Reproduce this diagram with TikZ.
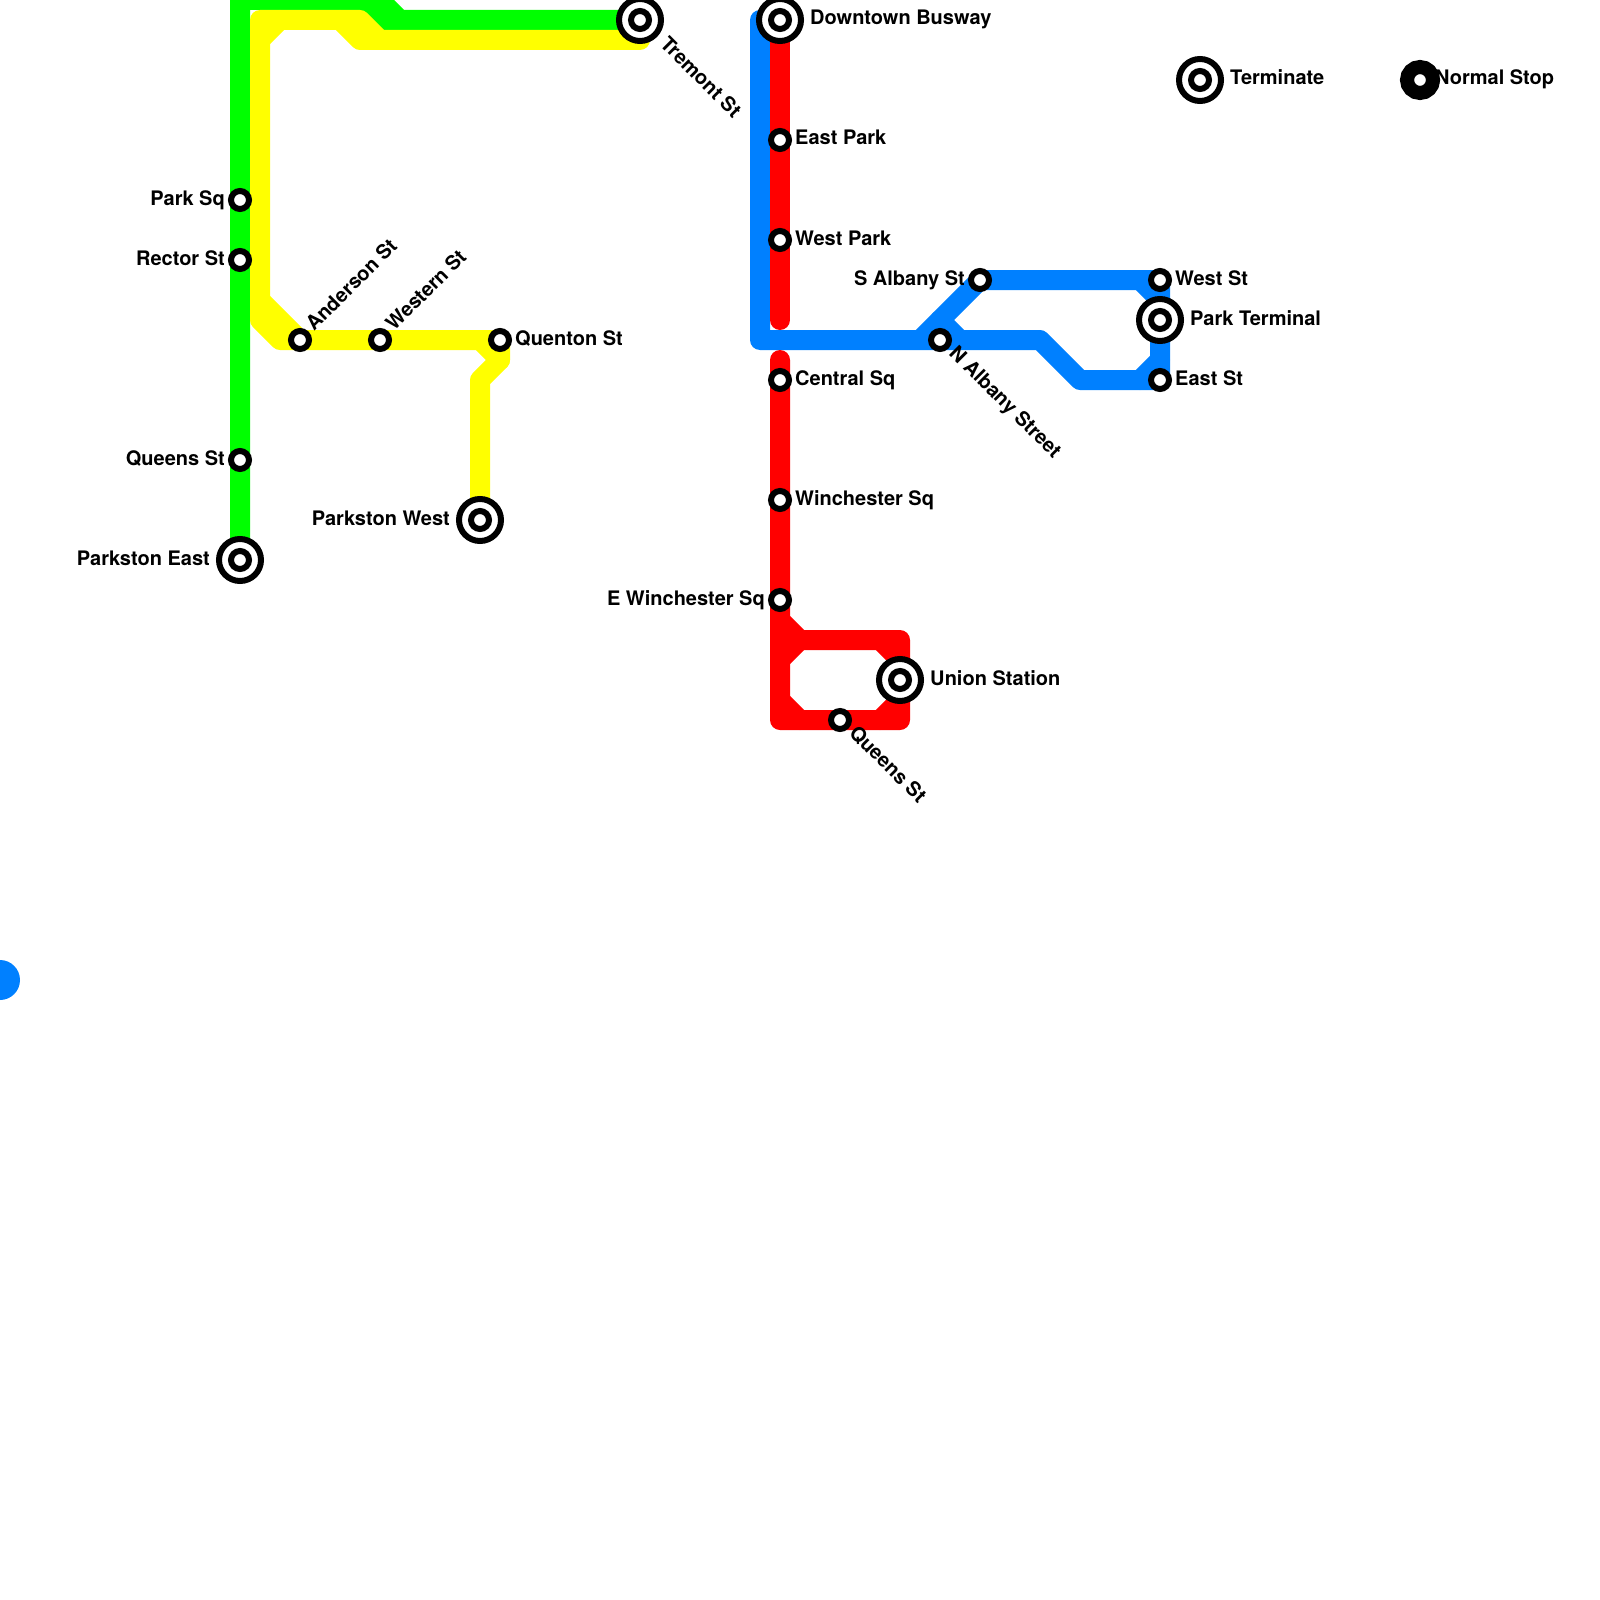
\documentclass[tikz,border=0pt]{standalone}
\usepackage{fontspec}
\setmainfont{TeX Gyre Heros}
\pgfdeclarelayer{lines}
\pgfsetlayers{lines,main}
\definecolor{lineGreen}{RGB}{0,255,0}
\definecolor{lineYellow}{RGB}{255,255,0}
\definecolor{lineRed}{RGB}{255,0,0}
\definecolor{lineBlue}{RGB}{0,128,255}
\tikzset{
  transit/.style={line width=20pt,line join=round,line cap=round},
  stopdot/.style={circle,draw=black,fill=white,line width=6pt,minimum size=18pt,inner sep=0pt},
  termout/.style={circle,draw=black,fill=white,line width=6pt,minimum size=42pt,inner sep=0pt},
  termin/.style={circle,draw=black,fill=white,line width=6pt,minimum size=18pt,inner sep=0pt},
  legenddot/.style={circle,draw=black,fill=white,line width=14pt,minimum size=26pt,inner sep=0pt},
  txt/.style={font=\fontsize{20}{20}\selectfont\bfseries,inner sep=0pt,text=black},
  lblE/.style={txt,anchor=base west},
  lblW/.style={txt,anchor=base east},
  lblUp/.style={txt,anchor=base west,rotate=45},
  lblDn/.style={txt,anchor=base west,rotate=-45},
}
\newcommand{\termstop}[2]{\node[termout] (#1) at (#2) {};\node[termin] (#1in) at (#2) {};}
\begin{document}
\begin{tikzpicture}[x=1pt,y=-1pt]
\clip (0,0) rectangle (1600,1600);
% stations
\node[stopdot] (parksq) at (240,200) {};
\node[stopdot] (rector) at (240,260) {};
\node[stopdot] (queensw) at (240,460) {};
\termstop{parkstone}{240,560}
\node[stopdot] (anderson) at (300,340) {};
\node[stopdot] (western) at (380,340) {};
\node[stopdot] (quenton) at (500,340) {};
\termstop{parkstonw}{480,520}
\termstop{tremont}{640,20}
\termstop{downtown}{780,20}
\node[stopdot] (eastpark) at (780,140) {};
\node[stopdot] (westpark) at (780,240) {};
\node[stopdot] (central) at (780,380) {};
\node[stopdot] (winch) at (780,500) {};
\node[stopdot] (ewinch) at (780,600) {};
\termstop{union}{900,680}
\node[stopdot] (queensr) at (840,720) {};
\node[stopdot] (salbany) at (980,280) {};
\node[stopdot] (nalbany) at (940,340) {};
\node[stopdot] (westst) at (1160,280) {};
\termstop{parkterm}{1160,320}
\node[stopdot] (eastst) at (1160,380) {};
\termstop{legendterm}{1200,80}
\node[legenddot] (legendstop) at (1420,80) {};
\node[circle,fill=lineBlue,minimum size=40pt,inner sep=0pt] (blob) at (0,980) {};
% bends
\foreach \n/\p in {
  ga/{240,0},gb/{380,0},gc/{400,20},gd/{360,0},ge/{380,20},
  ya/{640,40},yb/{360,40},yc/{340,20},yd/{260,20},ye/{260,320},yf/{280,340},
  yg/{260,300},yh/{260,40},yi/{280,20},yj/{480,340},yk/{500,360},yl/{480,380},
  ym/{360,20},yn/{380,40},
  ra/{780,320},rb/{780,360},rc/{780,720},rd/{900,720},re/{900,640},rf/{800,640},rg/{780,620},
  rh/{780,660},ri/{780,700},rj/{800,720},rk/{880,640},rl/{900,660},rm/{880,720},rn/{900,700},
  ba/{760,20},bb/{760,340},bc/{1040,340},bd/{1080,380},be/{940,320},bf/{960,340},
  bg/{1140,280},bh/{1160,300},bi/{1140,380},bj/{1160,360},bk/{920,340}}
  {\coordinate (\n) at (\p);}
% lines
\begin{pgfonlayer}{lines}
\fill[white] (0,0) rectangle (1600,1600);
\draw[transit,lineGreen] (parkstone.center) -- (queensw.center) -- (rector.center) -- (parksq.center) -- (ga) -- (gb) -- (gc) -- (tremont.center);
\draw[transit,lineGreen] (gd) -- (ge) -- (gc);
\draw[transit,lineYellow] (tremont.center) -- (ya) -- (yb) -- (yc) -- (yd) -- (ye) -- (yf) -- (anderson.center) -- (western.center) -- (quenton.center) -- (yk) -- (yl) -- (parkstonw.center);
\draw[transit,lineYellow] (yg) -- (anderson.center);
\draw[transit,lineYellow] (yh) -- (yi);
\draw[transit,lineYellow] (yj) -- (yk);
\draw[transit,lineYellow] (yc) -- (ym) -- (yn);
\draw[transit,lineBlue] (downtown.center) -- (ba) -- (bb) -- (bk) -- (nalbany.center) -- (bc) -- (bd) -- (eastst.center) -- (parkterm.center) -- (westst.center) -- (salbany.center) -- (bk);
\draw[transit,lineBlue] (be) -- (bf);
\draw[transit,lineBlue] (bg) -- (bh);
\draw[transit,lineBlue] (bi) -- (bj);
\draw[transit,lineRed] (downtown.center) -- (eastpark.center) -- (westpark.center) -- (ra);
\draw[transit,lineRed] (rb) -- (central.center) -- (winch.center) -- (ewinch.center) -- (rc) -- (queensr.center) -- (rd) -- (union.center) -- (re) -- (rf) -- (rg);
\draw[transit,lineRed] (rh) -- (rf);
\draw[transit,lineRed] (ri) -- (rj);
\draw[transit,lineRed] (rk) -- (rl);
\draw[transit,lineRed] (rm) -- (rn);
\end{pgfonlayer}
% labels
\node[lblW] (tparksq) at ([shift={(-15,5)}]parksq.center) {Park Sq};
\node[lblW] (trector) at ([shift={(-15,5)}]rector.center) {Rector St};
\node[lblW] (tqueensw) at ([shift={(-15,5)}]queensw.center) {Queens St};
\node[lblW] (tparkstone) at ([shift={(-30,5)}]parkstone.center) {Parkston East};
\node[lblW] (tparkstonw) at ([shift={(-30,5)}]parkstonw.center) {Parkston West};
\node[lblE] (tquenton) at ([shift={(15,5)}]quenton.center) {Quenton St};
\node[lblUp] (tanderson) at ([shift={(14,-8)}]anderson.center) {Anderson St};
\node[lblUp] (twestern) at ([shift={(14,-8)}]western.center) {Western St};
\node[lblDn] (ttremont) at ([shift={(19,25)}]tremont.center) {Tremont St};
\node[lblE] (tdowntown) at ([shift={(30,5)}]downtown.center) {Downtown Busway};
\node[lblE] (teastpark) at ([shift={(15,5)}]eastpark.center) {East Park};
\node[lblE] (twestpark) at ([shift={(15,5)}]westpark.center) {West Park};
\node[lblE] (tcentral) at ([shift={(15,5)}]central.center) {Central Sq};
\node[lblE] (twinch) at ([shift={(15,5)}]winch.center) {Winchester Sq};
\node[lblW] (tewinch) at ([shift={(-15,5)}]ewinch.center) {E Winchester Sq};
\node[lblE] (tunion) at ([shift={(30,5)}]union.center) {Union Station};
\node[lblDn] (tqueensr) at ([shift={(8,14)}]queensr.center) {Queens St};
\node[lblW] (tsalbany) at ([shift={(-15,5)}]salbany.center) {S Albany St};
\node[lblDn] (tnalbany) at ([shift={(8,14)}]nalbany.center) {N Albany Street};
\node[lblE] (twestst) at ([shift={(15,5)}]westst.center) {West St};
\node[lblE] (tparkterm) at ([shift={(30,5)}]parkterm.center) {Park Terminal};
\node[lblE] (teastst) at ([shift={(15,5)}]eastst.center) {East St};
\node[lblE] (tlegterm) at ([shift={(30,5)}]legendterm.center) {Terminate};
\node[lblE] (tlegstop) at ([shift={(15,5)}]legendstop.center) {Normal Stop};
\end{tikzpicture}
\end{document}
